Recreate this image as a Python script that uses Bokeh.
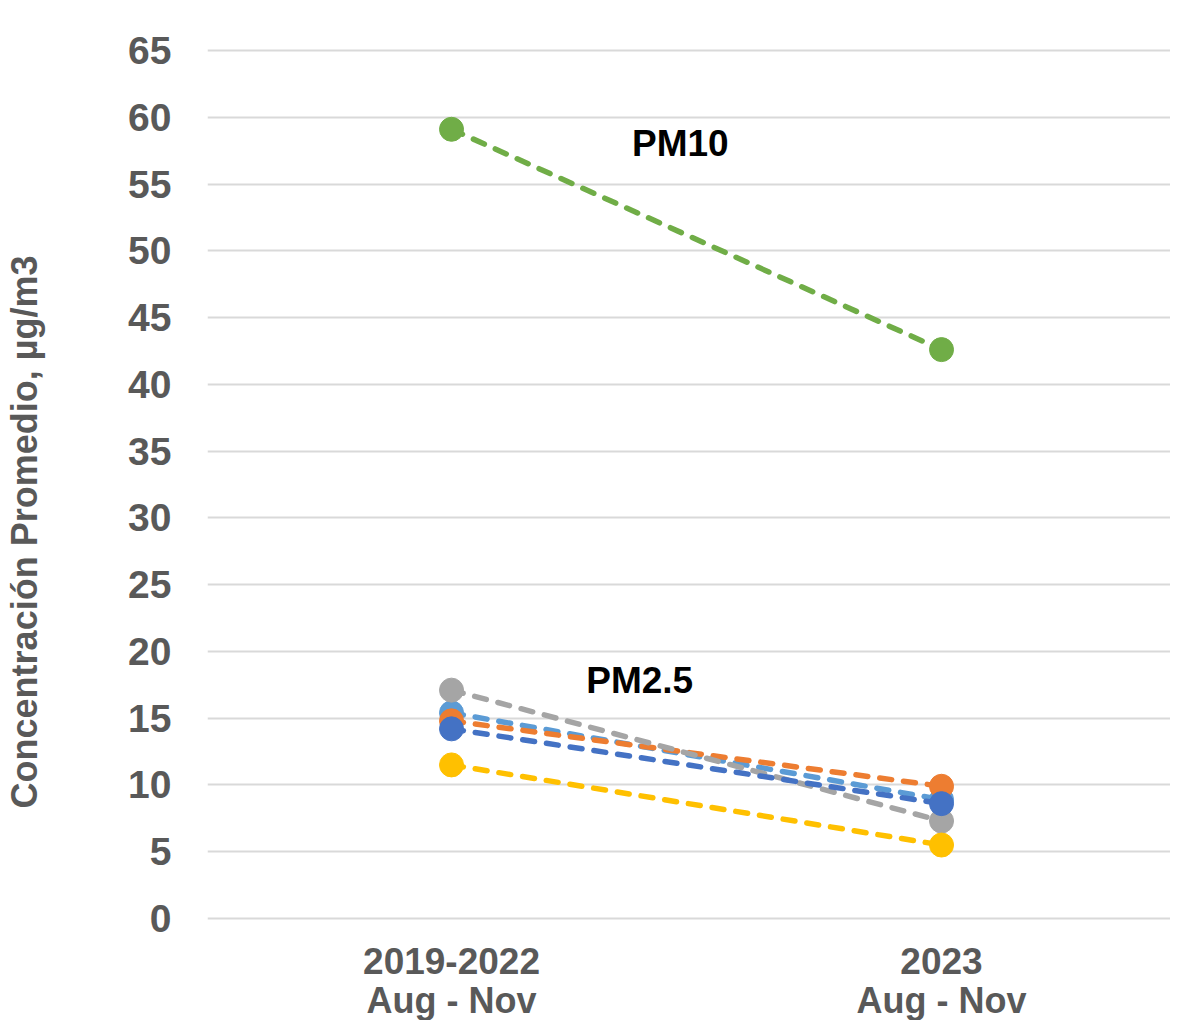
from bokeh.plotting import figure
from bokeh.models import FixedTicker, Range1d, ColumnDataSource
from bokeh.embed import file_html
from bokeh.resources import INLINE
from bokeh.core.properties import value

period_line1 = ["2019-2022", "2023"]
period_line2 = ["Aug - Nov", "Aug - Nov"]
xpos = [0, 1]
y_ticks = [0, 5, 10, 15, 20, 25, 30, 35, 40, 45, 50, 55, 60, 65]

series = [
    ("light_blue", [15.4, 8.9], "#5B9BD5"),
    ("orange", [14.8, 9.9], "#ED7D31"),
    ("gray", [17.1, 7.3], "#A5A5A5"),
    ("blue", [14.2, 8.6], "#4472C4"),
    ("yellow", [11.5, 5.5], "#FFC000"),
    ("green_pm10", [59.1, 42.6], "#70AD47"),
]

labels = ["PM10", "PM2.5"]
label_x = [0.467, 0.384]
label_y = [58.0, 17.8]

FONT = "Liberation Sans"

p = figure(width=1170, height=1020, output_backend="svg", toolbar_location=None,
           x_range=Range1d(-0.498, 1.4673), y_range=Range1d(-7.64, 65.524),
           min_border_left=207, min_border_right=0, min_border_top=43, min_border_bottom=0)
p.outline_line_color = None
p.background_fill_color = "white"

for name, vals, col in series:
    src = ColumnDataSource(dict(x=xpos, y=vals))
    p.line("x", "y", source=src, line_color=col, line_width=5.5, line_dash="12 12", line_cap="round")
    p.scatter("x", "y", source=src, size=24, fill_color=col, line_color=col)

p.text(x=label_x, y=label_y, text=labels, text_font=value(FONT), text_font_style="bold",
       text_font_size="37px", text_color="black", text_align="center", text_baseline="middle")

# category labels placed below the zero line, on the chart's own scales
p.text(x=xpos, y=[-3.15, -3.15], text=period_line1, text_font=value(FONT), text_font_style="bold",
       text_font_size="37px", text_color="#595959", text_align="center", text_baseline="middle")
p.text(x=xpos, y=[-6.14, -6.14], text=period_line2, text_font=value(FONT), text_font_style="bold",
       text_font_size="36px", text_color="#595959", text_align="center", text_baseline="middle")

p.xaxis.visible = False
p.xgrid.grid_line_color = None
p.ygrid.grid_line_color = "#D9D9D9"
p.ygrid.grid_line_width = 2
p.yaxis.ticker = FixedTicker(ticks=y_ticks)

ax = p.yaxis[0]
ax.axis_line_color = None
ax.major_tick_line_color = None
ax.minor_tick_line_color = None
ax.major_tick_out = 0
ax.major_tick_in = 0
ax.major_label_text_font = FONT
ax.major_label_text_font_style = "bold"
ax.major_label_text_color = "#595959"
ax.major_label_text_font_size = "39px"
ax.major_label_standoff = 36
ax.axis_label = "Concentración Promedio, µg/m3"
ax.axis_label_text_font = FONT
ax.axis_label_text_font_style = "bold"
ax.axis_label_text_font_size = "36px"
ax.axis_label_text_color = "#595959"
ax.axis_label_standoff = 80

open("out.html", "w").write(file_html(p, INLINE))
